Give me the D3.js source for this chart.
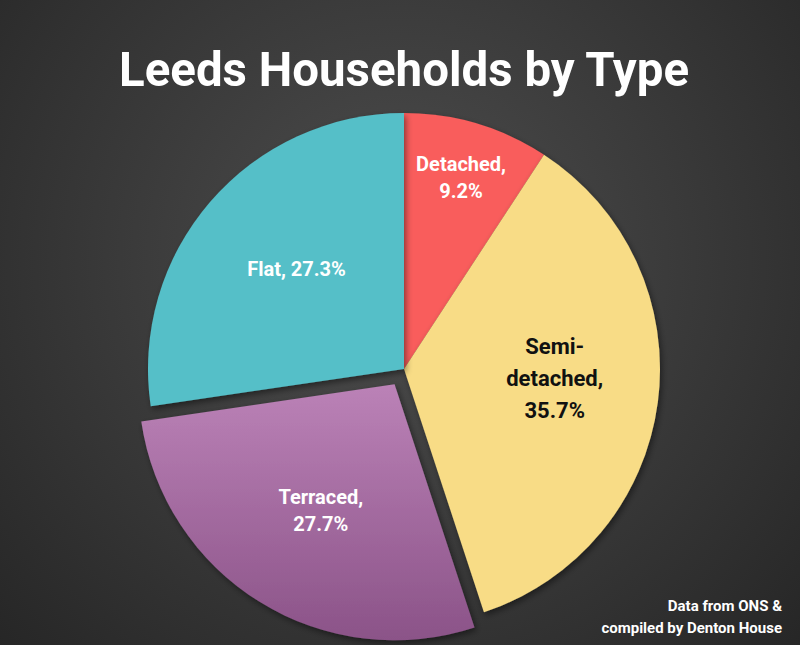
<!DOCTYPE html>
<html><head><meta charset="utf-8">
<script src="https://cdn.jsdelivr.net/npm/d3@7"></script>
<style>html,body{margin:0;padding:0;background:#333;}svg{display:block;}</style>
</head><body>
<svg id="c" width="800" height="645"></svg>
<script>
const title = "Leeds Households by Type";
const categories = ["Detached", "Semi-detached", "Terraced", "Flat"];
const values = [9.2, 35.7, 27.7, 27.3];
const labelLines = [["Detached,", "9.2%"], ["Semi-", "detached,", "35.7%"], ["Terraced,", "27.7%"], ["Flat, 27.3%"]];
const colors = ["#f95d5c", "#f8dc86", "url(#gradTerr)", "#55bfc8"];
const textColors = ["#ffffff", "#111111", "#ffffff", "#ffffff"];
const source = ["Data from ONS &", "compiled by Denton House"];

const W = 800, H = 645;
const svg = d3.select("#c");
const defs = svg.append("defs");
const bg = defs.append("radialGradient").attr("id", "bg").attr("gradientUnits", "userSpaceOnUse")
  .attr("cx", 400).attr("cy", 260).attr("r", 560);
bg.append("stop").attr("offset", "0").attr("stop-color", "#4e4e4e");
bg.append("stop").attr("offset", "1").attr("stop-color", "#262626");
const gt = defs.append("linearGradient").attr("id", "gradTerr").attr("x1", 0).attr("y1", 0).attr("x2", 0).attr("y2", 1);
gt.append("stop").attr("offset", "0").attr("stop-color", "#bb82b7");
gt.append("stop").attr("offset", "1").attr("stop-color", "#8b5388");
const f = defs.append("filter").attr("id", "sh").attr("x", "-20%").attr("y", "-20%").attr("width", "140%").attr("height", "140%");
f.append("feDropShadow").attr("dx", 2).attr("dy", 3).attr("stdDeviation", 3).attr("flood-color", "#000").attr("flood-opacity", 0.45);

svg.append("rect").attr("width", W).attr("height", H).attr("fill", "url(#bg)");

svg.append("text").attr("x", 404).attr("y", 86).attr("text-anchor", "middle")
  .attr("font-family", "Roboto, sans-serif").attr("font-weight", 700).attr("font-size", 49)
  .attr("textLength", 570).attr("lengthAdjust", "spacingAndGlyphs")
  .attr("fill", "#fff").text(title);

const cx = 404, cy = 369, R = 256, explode = 18;
const pie = d3.pie().sort(null).value(d => d)(values);
const arc = d3.arc().innerRadius(0).outerRadius(R);
const g = svg.append("g").attr("transform", `translate(${cx},${cy})`);
const labelR = [200, 152, 148, 150];
const labelDy = [0, -10, 0, -2];

pie.forEach((p, i) => {
  const mid = (p.startAngle + p.endAngle) / 2;
  const off = i === 2 ? explode : 0;
  const ox = Math.sin(mid) * off, oy = -Math.cos(mid) * off;
  const sg = g.append("g").attr("transform", `translate(${ox},${oy})`);
  sg.append("path").attr("d", arc(p)).attr("fill", colors[i]).attr("filter", "url(#sh)");
});
pie.forEach((p, i) => {
  const mid = (p.startAngle + p.endAngle) / 2;
  const off = i === 2 ? explode : 0;
  const rr = labelR[i] + off;
  const lx = Math.sin(mid) * rr + (i === 3 ? 6 : (i === 2 ? 4 : 0)), ly = -Math.cos(mid) * rr + labelDy[i];
  const lines = labelLines[i];
  const lh = i === 1 ? 32 : 27;
  const t = g.append("text").attr("text-anchor", "middle")
    .attr("font-family", "Roboto, sans-serif").attr("font-weight", 700)
    .attr("font-size", i === 1 ? 22 : 20).attr("fill", textColors[i]);
  lines.forEach((s, k) => {
    t.append("tspan").attr("x", lx).attr("y", ly + (k - (lines.length - 1) / 2) * lh).attr("dy", "0.35em").text(s);
  });
});

const ft = svg.append("text").attr("text-anchor", "end").attr("font-family", "Roboto, sans-serif")
  .attr("font-weight", 700).attr("font-size", 15).attr("fill", "#fff");
source.forEach((s, k) => ft.append("tspan").attr("x", 782).attr("y", 611 + k * 22).text(s));
</script>
</body></html>
